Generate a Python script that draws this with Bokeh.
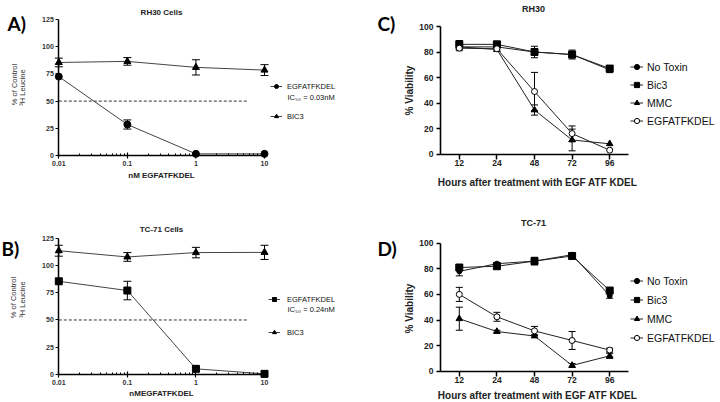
import math
from bokeh.plotting import figure
from bokeh.models import (Range1d, FixedTicker, Label, Legend, LegendItem,
                          Whisker, ColumnDataSource, TeeHead, CustomJSTickFormatter)
from bokeh.layouts import row, column
from bokeh.embed import file_html
from bokeh.resources import INLINE

FONT = "Liberation Sans"
PANEL_FONT = "Lato"

# ---------------- data ----------------
conc_nM = [0.01, 0.1, 1, 10]
dose_ticks = [0.01, 0.1, 1, 10]
leucine_ticks = [0, 25, 50, 75, 100, 125]
ic50_x = [0.01, 5.6]
ic50_y = [50, 50]

rh30_egf = [72.5, 28.5, 1.5, 1.5]
rh30_egf_err = [0, 4.2, 0, 0]
rh30_bic3 = [85.5, 86.5, 81, 78.5]
rh30_bic3_err = [4, 3.5, 7, 5]

tc71_egf = [85.5, 77, 5.2, 0.6]
tc71_egf_err = [0, 8.5, 0, 0]
tc71_bic3 = [113.5, 107.8, 111.8, 112]
tc71_bic3_err = [5, 4, 4.8, 6.5]

hours = ["12", "24", "48", "72", "96"]
viab_ticks = [0, 20, 40, 60, 80, 100]
series_names = ["No Toxin", "Bic3", "MMC", "EGFATFKDEL"]

rh30_notox = [84, 84, 80, 78, 66]
rh30_notox_err = [2, 1.5, 4.5, 3.5, 2.2]
rh30_bic3_v = [86, 86, 80, 78, 67]
rh30_bic3_v_err = [3, 1, 0, 0, 0]
rh30_mmc = [84, 82, 34.5, 11, 8]
rh30_mmc_err = [0, 1.5, 4, 8.5, 0]
rh30_egfv = [83, 82.5, 49, 16, 3]
rh30_egfv_err = [2, 0, 15, 6, 0]

tc71_notox = [78, 84, 86, 91, 59]
tc71_notox_err = [3.5, 1, 3, 1.5, 2]
tc71_bic3_v = [81, 82, 86, 90, 63]
tc71_bic3_v_err = [1.5, 1, 1.5, 1, 2]
tc71_mmc = [41, 31, 27.5, 4.5, 12]
tc71_mmc_err = [9, 1, 1, 1.5, 2]
tc71_egfv = [60, 42.5, 31.5, 24, 16.5]
tc71_egfv_err = [5.5, 3.5, 3.5, 7, 1.5]


# ---------------- helpers ----------------
def span(v0, p0, v1, p1, c_lo, c_hi):
    """value range that maps the canvas pixels c_lo..c_hi, given two anchors"""
    s = (p1 - p0) / (v1 - v0)
    return v0 + (c_lo - p0) / s, v0 + (c_hi - p0) / s


def lab(p, F, px, py, text, size, bold=False, align="left", angle=0.0,
        color="black", font=FONT):
    fx, fy = F
    p.add_layout(Label(x=px - fx, y=fy - py, x_units="screen", y_units="screen",
                       text=text, text_font=font, text_font_size=f"{size}px",
                       text_font_style="bold" if bold else "normal",
                       text_align=align, text_baseline="middle", angle=angle,
                       text_color=color))


def add_err(p, xs, ys, errs, cap):
    pts = [(x, y, e) for x, y, e in zip(xs, ys, errs) if e > 0]
    src = ColumnDataSource(dict(x=[a for a, _, _ in pts],
                                upper=[b + c for _, b, c in pts],
                                lower=[b - c for _, b, c in pts]))
    p.add_layout(Whisker(source=src, base="x", upper="upper", lower="lower",
                         dimension="height", line_color="black", line_width=1,
                         upper_head=TeeHead(size=cap, line_color="black", line_width=1),
                         lower_head=TeeHead(size=cap, line_color="black", line_width=1)))


def base_fig(width, height, xr, yr, x_type="linear"):
    p = figure(width=width, height=height, x_axis_type=x_type, x_range=xr, y_range=yr,
               output_backend="svg", toolbar_location=None, min_border=0,
               min_border_left=0, min_border_right=0, min_border_top=0,
               min_border_bottom=0)
    p.outline_line_color = None
    p.grid.visible = False
    p.border_fill_color = "white"
    return p


def dose_panel(page_left, page_top, width, height, y0_px, y125_px):
    # x anchors: 0.01 at x=58.3, 10 at x=264
    lx = span(math.log10(dose_ticks[0]), 58.3, math.log10(dose_ticks[-1]), 264.0,
              page_left, page_left + width)
    ly = span(leucine_ticks[0], y0_px, leucine_ticks[-1], y125_px,
              page_top + height, page_top)
    p = base_fig(width, height, Range1d(10 ** lx[0], 10 ** lx[1]),
                 Range1d(ly[0], ly[1]), "log")
    xa = p.xaxis[0]
    ya = p.yaxis[0]
    xa.fixed_location = leucine_ticks[0]
    ya.fixed_location = dose_ticks[0]
    xa.bounds = (dose_ticks[0], dose_ticks[-1])
    ya.bounds = (leucine_ticks[0], leucine_ticks[-1])
    minors = [m * t for t in dose_ticks[:-1] for m in range(2, 10)]
    xa.ticker = FixedTicker(ticks=dose_ticks, minor_ticks=minors)
    xa.formatter = CustomJSTickFormatter(code="return tick.toString();")
    ya.ticker = FixedTicker(ticks=leucine_ticks, minor_ticks=[])
    for ax in (xa, ya):
        ax.axis_line_width = 1.5
        ax.axis_line_color = "black"
        ax.major_tick_line_width = 1.2
        ax.minor_tick_line_width = 1
        ax.major_label_text_font = FONT
        ax.major_label_text_font_size = "7px"
        ax.major_label_text_font_style = "bold"
        ax.major_label_text_color = "#333"
        ax.major_label_standoff = 2
    xa.major_tick_in = 3
    xa.major_tick_out = 3
    xa.minor_tick_in = 2
    xa.minor_tick_out = 0
    ya.major_tick_in = 0
    ya.major_tick_out = 3
    return p


def dose_series(p, egf, egf_err, bic, bic_err, egf_marker):
    p.line(ic50_x, ic50_y, line_color="#333", line_width=1, line_dash="3 2")
    add_err(p, conc_nM, egf, egf_err, 8)
    add_err(p, conc_nM, bic, bic_err, 8)
    l1 = p.line(conc_nM, egf, line_color="#444", line_width=1)
    s1 = p.scatter(conc_nM, egf, marker=egf_marker, size=7, color="black")
    l2 = p.line(conc_nM, bic, line_color="#444", line_width=1)
    s2 = p.scatter(conc_nM, bic, marker="triangle", size=7, color="black")
    return [l1, s1], [l2, s2]


def hour_pos():
    return [i + 0.5 for i in range(len(hours))]


def time_panel(page_left, page_top, width, height, y0_px, y100_px):
    n = len(hours)
    lx = span(0, 440.0, n, 628.0, page_left, page_left + width)
    ly = span(viab_ticks[0], y0_px, viab_ticks[-1], y100_px, page_top + height, page_top)
    p = base_fig(width, height, Range1d(lx[0], lx[1]), Range1d(ly[0], ly[1]))
    xa = p.xaxis[0]
    ya = p.yaxis[0]
    xa.fixed_location = viab_ticks[0]
    ya.fixed_location = 0
    xa.bounds = (0, n)
    ya.bounds = (viab_ticks[0], viab_ticks[-1])
    xa.ticker = FixedTicker(ticks=hour_pos(), minor_ticks=[])
    xa.formatter = CustomJSTickFormatter(args=dict(labels=hours),
                                         code="return labels[Math.floor(tick)];")
    ya.ticker = FixedTicker(ticks=viab_ticks, minor_ticks=[])
    for ax in (xa, ya):
        ax.axis_line_width = 1.6
        ax.axis_line_color = "black"
        ax.major_tick_line_width = 1.5
        ax.major_tick_in = 0
        ax.major_tick_out = 4
        ax.minor_tick_line_color = None
        ax.major_label_text_font = FONT
        ax.major_label_text_font_size = "8.5px"
        ax.major_label_text_font_style = "bold"
        ax.major_label_text_color = "#222"
    xa.major_tick_out = 5
    xa.major_label_standoff = 1
    ya.major_label_standoff = 3
    return p


STYLES = [
    dict(marker="circle", size=5, fill_color="black"),
    dict(marker="square", size=7, fill_color="black"),
    dict(marker="triangle", size=6.5, fill_color="black"),
    dict(marker="circle", size=6, fill_color="white"),
]


def time_series(p, vals, errs):
    xs = hour_pos()
    for v, e in zip(vals, errs):
        add_err(p, xs, v, e, 7)
    items = []
    for name, v, st in zip(series_names, vals, STYLES):
        lr = p.line(xs, v, line_color="#222", line_width=1)
        sr = p.scatter(xs, v, marker=st["marker"], size=st["size"],
                       fill_color=st["fill_color"], line_color="black", line_width=1)
        items.append(LegendItem(label=name, renderers=[lr, sr]))
    return items


def legend(items, loc, gh, spacing, gw, standoff, size):
    return Legend(items=items, location=loc, glyph_width=gw, glyph_height=gh,
                  label_height=gh, spacing=spacing, label_standoff=standoff,
                  padding=0, margin=0, border_line_color=None,
                  background_fill_alpha=0, label_text_font=FONT,
                  label_text_font_size=f"{size}px", label_text_color="#111")


# ---------------- panel A ----------------
pa = dose_panel(0, 0, 360, 200, 155.0, 19.0)
FA = (0, 200)
ia, ib = dose_series(pa, rh30_egf, rh30_egf_err, rh30_bic3, rh30_bic3_err, "circle")
pa.add_layout(legend([LegendItem(label="EGFATFKDEL", renderers=ia),
                      LegendItem(label="BIC3", renderers=ib)],
                     (270, 79), 10, 20, 12, 5, 7.5))
lab(pa, FA, 7, 23, "A)", 19, bold=True, font=PANEL_FONT)
lab(pa, FA, 161, 12, "RH30 Cells", 8, bold=True, align="center", color="#222")
lab(pa, FA, 13.5, 84, "% of Control", 7.5, align="center", angle=math.pi / 2, color="#333")
lab(pa, FA, 21.5, 87, "³H Leucine", 7.5, align="center", angle=math.pi / 2, color="#333")
lab(pa, FA, 161, 175, "nM EGFATFKDEL", 8, bold=True, align="center", color="#222")
lab(pa, FA, 287, 97, "IC₅₀ = 0.03nM", 7.5, color="#111")

# ---------------- panel B ----------------
pb = dose_panel(0, 200, 360, 202, 374.0, 237.7)
FB = (0, 402)
ia, ib = dose_series(pb, tc71_egf, tc71_egf_err, tc71_bic3, tc71_bic3_err, "square")
pb.add_layout(legend([LegendItem(label="EGFATFKDEL", renderers=ia),
                      LegendItem(label="BIC3", renderers=ib)],
                     (268, 65), 10, 23, 12, 7, 7.5))
lab(pb, FB, 1, 248, "B)", 19, bold=True, font=PANEL_FONT)
lab(pb, FB, 161, 229, "TC-71 Cells", 8, bold=True, align="center", color="#222")
lab(pb, FB, 13, 297, "% of Control", 7.5, align="center", angle=math.pi / 2, color="#333")
lab(pb, FB, 21.5, 299, "³H Leucine", 7.5, align="center", angle=math.pi / 2, color="#333")
lab(pb, FB, 161, 393, "nMEGFATFKDEL", 8, bold=True, align="center", color="#222")
lab(pb, FB, 287, 309, "IC₅₀ = 0.24nM", 7.5, color="#111")

# ---------------- panel C ----------------
pc = time_panel(360, 0, 360, 200, 153.5, 26.0)
FC = (360, 200)
items = time_series(pc, [rh30_notox, rh30_bic3_v, rh30_mmc, rh30_egfv],
                    [rh30_notox_err, rh30_bic3_v_err, rh30_mmc_err, rh30_egfv_err])
pc.add_layout(legend(items, (270, 73), 13, 5, 13, 4, 10.5))
lab(pc, FC, 377, 23, "C)", 19, bold=True, font=PANEL_FONT)
lab(pc, FC, 533, 8.5, "RH30", 9, bold=True, align="center", color="#222")
lab(pc, FC, 409, 90, "% Viability", 10, bold=True, align="center", angle=math.pi / 2, color="#222")
lab(pc, FC, 537, 181.5, "Hours after treatment with EGF ATF KDEL", 10, bold=True,
    align="center", color="#222")

# ---------------- panel D ----------------
pd_ = time_panel(360, 200, 360, 202, 370.7, 242.7)
FD = (360, 402)
items = time_series(pd_, [tc71_notox, tc71_bic3_v, tc71_mmc, tc71_egfv],
                    [tc71_notox_err, tc71_bic3_v_err, tc71_mmc_err, tc71_egfv_err])
pd_.add_layout(legend(items, (270, 58), 13, 6, 13, 4, 10.5))
lab(pd_, FD, 377, 248, "D)", 19, bold=True, font=PANEL_FONT)
lab(pd_, FD, 533, 222, "TC-71", 9, bold=True, align="center", color="#222")
lab(pd_, FD, 409, 308, "% Viability", 10, bold=True, align="center", angle=math.pi / 2, color="#222")
lab(pd_, FD, 537, 395, "Hours after treatment with EGF ATF KDEL", 10, bold=True,
    align="center", color="#222")

layout = column(row(pa, pc), row(pb, pd_))
open("out.html", "w").write(file_html(layout, INLINE))
